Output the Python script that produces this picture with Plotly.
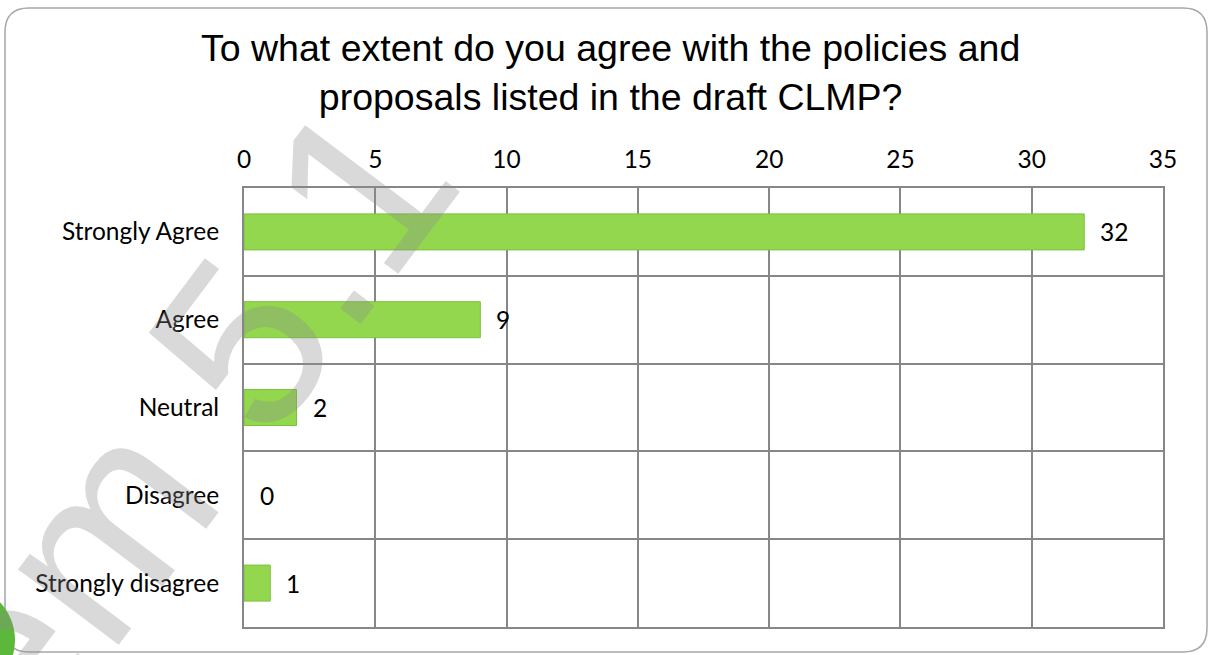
import plotly.graph_objects as go

categories = ["Strongly Agree", "Agree", "Neutral", "Disagree", "Strongly disagree"]
values = [32, 9, 2, 0, 1]
x_ticks = [0, 5, 10, 15, 20, 25, 30, 35]
title_text = "To what extent do you agree with the policies and<br>proposals listed in the draft CLMP?"
watermark = "Item 5.1"

W, H = 1211, 655
L, R, T, B = 244, 48, 188, 28
PW, PH = W - L - R, H - T - B


def px(x):
    return (x - L) / PW


def py(y):
    return (H - B - y) / PH


GRID = "#878787"
LABEL_FONT = dict(family="Lato, Carlito, sans-serif", size=24.5, color="#000000")

fig = go.Figure()
fig.add_trace(go.Bar(
    y=categories,
    x=values,
    orientation="h",
    marker=dict(color="#93d74f",
                line=dict(color="#7cc13a", width=[1 if v > 0 else 0 for v in values])),
    hoverinfo="x+y",
))

annotations = []
for c, v in zip(categories, values):
    annotations.append(dict(
        x=v, y=c, xref="x", yref="y", text=str(v), showarrow=False,
        xanchor="left", yanchor="middle", xshift=14, font=LABEL_FONT,
    ))

# title
annotations.append(dict(
    x=px(610), y=py(25), xref="paper", yref="paper", text=title_text,
    showarrow=False, xanchor="center", yanchor="top", align="center",
    font=dict(family="Liberation Sans, Arial, sans-serif", size=37.5, color="#000000"),
))

# watermark
annotations.append(dict(
    x=px(142), y=py(476), xref="paper", yref="paper", text=watermark,
    showarrow=False, textangle=-53, xanchor="center", yanchor="middle",
    font=dict(family="Liberation Sans, Arial, sans-serif", size=238, color="rgba(140,140,140,0.33)"),
))

# rounded border path
x0, y0, x1, y1, r = 5, 8, 1207, 652, 24
pts = [
    ("M", px(x0 + r), py(y0)), ("L", px(x1 - r), py(y0)),
    ("Q", px(x1), py(y0), px(x1), py(y0 + r)), ("L", px(x1), py(y1 - r)),
    ("Q", px(x1), py(y1), px(x1 - r), py(y1)), ("L", px(x0 + r), py(y1)),
    ("Q", px(x0), py(y1), px(x0), py(y1 - r)), ("L", px(x0), py(y0 + r)),
    ("Q", px(x0), py(y0), px(x0 + r), py(y0)),
]
path = ""
for p in pts:
    path += p[0] + " " + " ".join(f"{v:.5f}" for v in p[1:]) + " "
path += "Z"

shapes = [
    dict(type="path", path=path, xref="paper", yref="paper",
         line=dict(color="#a6a6a6", width=1.5), fillcolor="rgba(0,0,0,0)", layer="below"),
    dict(type="circle", xref="paper", yref="paper",
         x0=px(-95), x1=px(15), y0=py(695), y1=py(585),
         fillcolor="#5cb83a", line=dict(width=0), layer="above"),
]

fig.update_layout(
    width=W, height=H,
    margin=dict(l=L, r=R, t=T, b=B),
    paper_bgcolor="white", plot_bgcolor="white",
    showlegend=False,
    bargap=0.59,
    xaxis=dict(
        range=[0, 35], tickvals=x_ticks, side="top",
        showgrid=True, gridcolor=GRID, gridwidth=2,
        showline=True, linecolor=GRID, linewidth=2, mirror=True,
        zeroline=False, ticks="outside", ticklen=8, tickcolor="rgba(0,0,0,0)",
        tickfont=LABEL_FONT, fixedrange=True,
    ),
    yaxis=dict(
        type="category", categoryorder="array", categoryarray=categories,
        autorange="reversed", tickson="boundaries",
        showgrid=True, gridcolor=GRID, gridwidth=2,
        showline=True, linecolor=GRID, linewidth=2, mirror=True,
        ticks="", ticklabelstandoff=18,
        tickfont=LABEL_FONT, fixedrange=True,
    ),
    annotations=annotations,
    shapes=shapes,
)

fig.write_html("out.html")
